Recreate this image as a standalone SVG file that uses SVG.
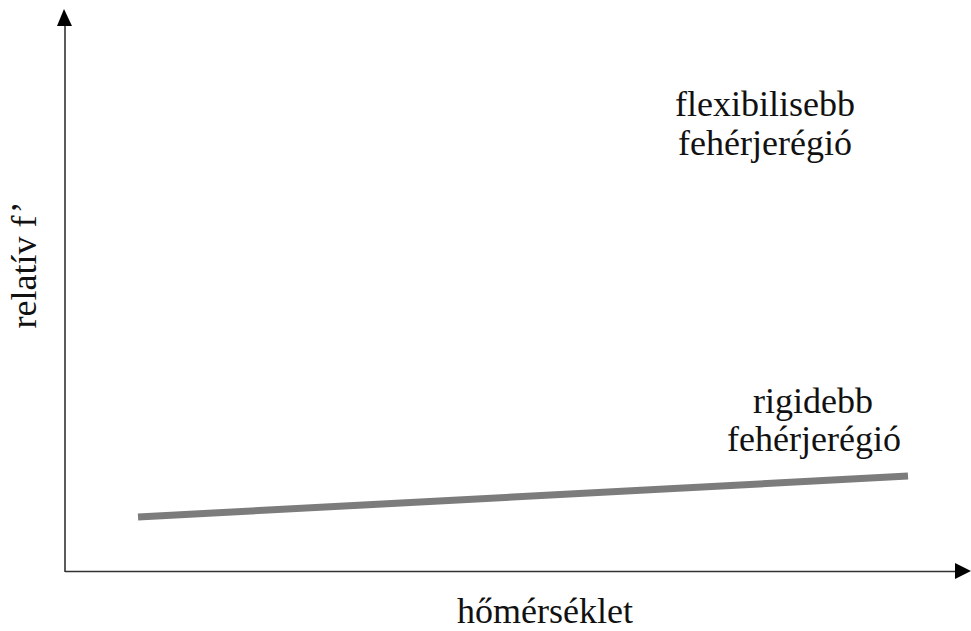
<svg xmlns="http://www.w3.org/2000/svg" width="971" height="631" viewBox="0 0 971 631">
<style>
text{font-family:'Liberation Serif','Times New Roman','DejaVu Serif',serif;font-size:36px;fill:#111;text-anchor:middle}
.axis{stroke:#333;stroke-width:1.6;fill:none}
.head{fill:#000}
</style>
<rect width="971" height="631" fill="#fff"/>
<g id="connectors">
<line class="axis" x1="65" y1="572" x2="65" y2="22"/>
<polygon class="head" points="64,9 57,26 72,26"/>
<line class="axis" x1="65" y1="571.5" x2="958" y2="571.5"/>
<polygon class="head" points="971,571 955,563 955,579"/>
</g>
<g id="curve">
<line x1="138" y1="517" x2="908" y2="476" stroke="#7c7c7c" stroke-width="7"/>
</g>
<g id="label-y"><text font-family="Liberation Serif, serif" transform="translate(36,265) rotate(-90)">relatív f’</text></g>
<g id="label-x"><text font-family="Liberation Serif, serif" x="545" y="623">hőmérséklet</text></g>
<g id="label-flex"><text font-family="Liberation Serif, serif" x="765" y="116">flexibilisebb</text><text font-family="Liberation Serif, serif" x="765" y="155">fehérjerégió</text></g>
<g id="label-rigid"><text font-family="Liberation Serif, serif" x="813" y="413">rigidebb</text><text font-family="Liberation Serif, serif" x="814" y="451">fehérjerégió</text></g>
</svg>
